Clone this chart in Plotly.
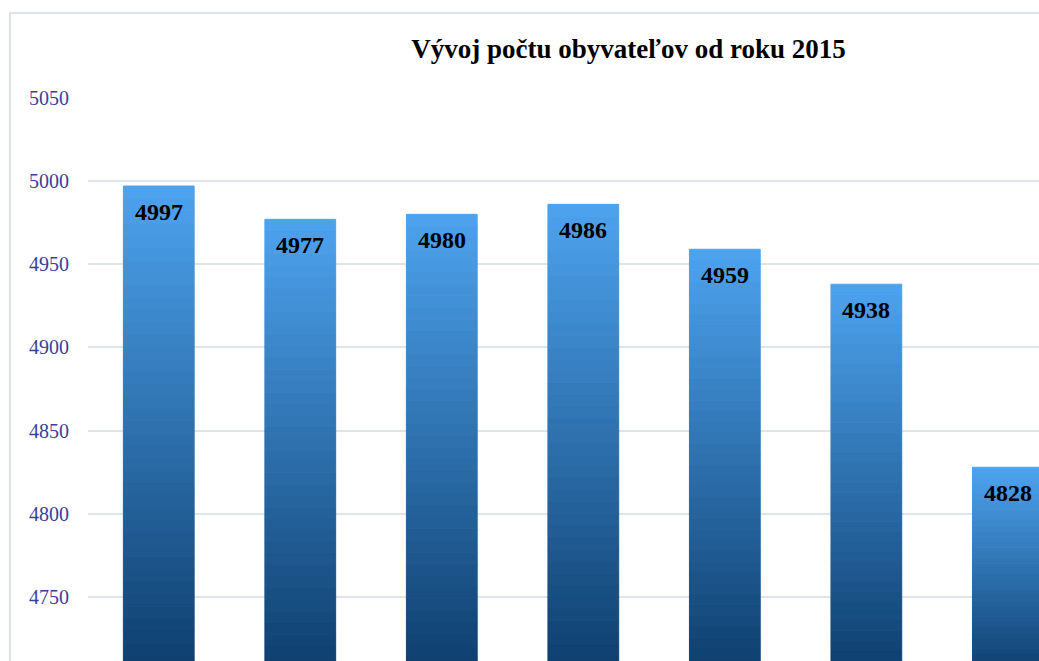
import plotly.graph_objects as go

# data
years = ['2015', '2016', '2017', '2018', '2019', '2020', '2021']
population = [4997, 4977, 4980, 4986, 4959, 4938, 4828]
y_ticks = [4750, 4800, 4850, 4900, 4950, 5000, 5050]

axis_floor = 4700          # bars start at the (hidden) axis minimum
n_steps = 40               # slices used to fake the vertical gradient
top_rgb = (77, 162, 237)
bottom_rgb = (13, 61, 108)

fig = go.Figure()

for k in range(n_steps):
    t = k / (n_steps - 1)
    col = 'rgb({},{},{})'.format(*[round(b + (a - b) * t) for a, b in zip(top_rgb, bottom_rgb)])
    step = [(v - axis_floor) / n_steps for v in population]
    fig.add_trace(go.Bar(
        x=years,
        y=step,
        base=[axis_floor + k * s for s in step],
        marker=dict(color=col, line=dict(width=1, color=col)),
        hoverinfo='skip',
        showlegend=False))

# value labels just below the top of each bar (x as category index)
for i, v in enumerate(population):
    fig.add_annotation(x=i, y=v, text='<b>%d</b>' % v, showarrow=False,
                       yanchor='top', yshift=-11,
                       font=dict(family='Liberation Serif', size=24, color='black'))

fig.update_layout(
    width=1039, height=661,
    barmode='overlay',
    bargap=0.5,
    plot_bgcolor='white',
    paper_bgcolor='white',
    margin=dict(l=88, r=0, t=97, b=0),
    title=dict(
        text='<b>Vývoj počtu obyvateľov od roku 2015</b>',
        font=dict(family='Liberation Serif', size=27, color='black'),
        x=0.605, xref='container', xanchor='center',
        y=0.927, yanchor='middle'),
    shapes=[dict(type='rect', xref='paper', yref='paper',
                 x0=-0.082, x1=1.05, y0=-0.1, y1=1.149,
                 line=dict(color='#dde2ea', width=2), layer='below')],
)

fig.update_xaxes(type='category', range=[-0.5, 6.22], showticklabels=False,
                 showgrid=False, zeroline=False, showline=False)
fig.update_yaxes(range=[4711.6, 5050.5], tickvals=y_ticks,
                 showgrid=True, gridcolor='#dfe3ea', gridwidth=2,
                 zeroline=False, showline=False,
                 ticklabelstandoff=18,
                 tickfont=dict(family='Liberation Serif', size=20, color='#3d3d9a'))

fig.write_html('out.html', config={'displayModeBar': False},
               post_script="document.body.style.margin='0';document.body.style.overflow='hidden';")
